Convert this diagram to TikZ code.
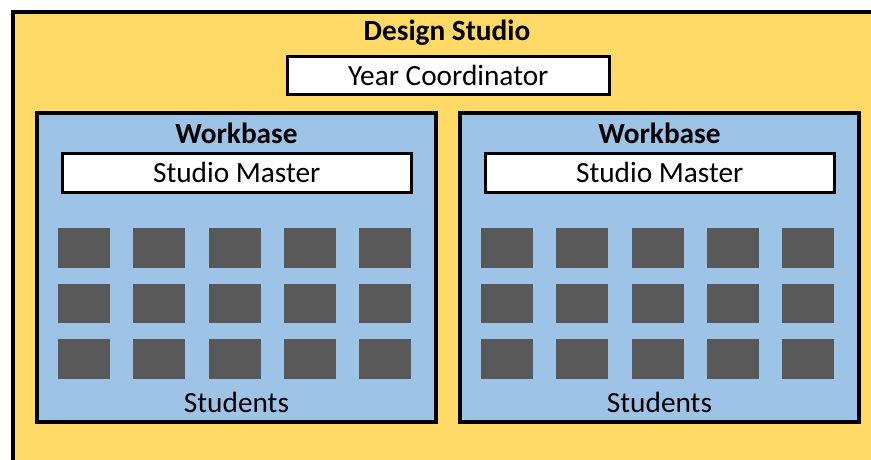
\documentclass[tikz,border=0pt]{standalone}
\usepackage{fontspec}
\setmainfont{Carlito}
\usetikzlibrary{calc}
\definecolor{studioyellow}{HTML}{FFD966}
\definecolor{wbblue}{HTML}{9DC3E6}
\definecolor{seatgray}{HTML}{595959}
\tikzset{
  txt/.style={font=\fontsize{29.3}{31}\selectfont, inner sep=0pt},
  boldtxt/.style={font=\fontsize{29.3}{31}\selectfont\bfseries, inner sep=0pt},
  wbbox/.style={draw=black, line width=4pt, fill=wbblue, inner sep=0pt,
    minimum width=399pt, minimum height=309pt, anchor=north west},
  rolebox/.style={draw=black, line width=3pt, fill=white, inner sep=0pt,
    font=\fontsize{29.3}{31}\selectfont, anchor=north west},
  seat/.style={fill=seatgray, inner sep=0pt, minimum width=52pt,
    minimum height=39.5pt, anchor=north west}
}
\begin{document}
\begin{tikzpicture}[x=1pt,y=-1pt]
\useasboundingbox (0,0) rectangle (871,459);
\clip (0,0) rectangle (871,459);
% outer design studio box (runs off the right and bottom edges)
\node[draw=black, line width=4pt, fill=studioyellow, inner sep=0pt,
  minimum width=900pt, minimum height=500pt, anchor=north west] (studio) at (11,10) {};
\node[boldtxt] (studiotitle) at (447,33) {Design Studio};
\node[rolebox, minimum width=322.5pt, minimum height=37.5pt] (yc) at (285.5,55) {Year Coordinator};
% workbases
\foreach \name/\x/\sx in {wbL/35/58, wbR/458/481}{
  \node[wbbox] (\name) at (\x,111) {};
  \node[boldtxt] (\name-title) at ($(\name.north)+(0,22.5)$) {Workbase};
  \node[rolebox, minimum width=349.5pt, minimum height=39pt] (\name-sm) at (\x+25.5,151.5) {Studio Master};
  \foreach \r/\y in {1/228, 2/283.5, 3/339}{
    \foreach \c in {0,...,4}{
      \node[seat] (\name-s\r\c) at (\sx+75.25*\c,\y) {};
    }
  }
  \node[txt] (\name-students) at ($(\name.south)+(0,-22)$) {Students};
}
\end{tikzpicture}
\end{document}
